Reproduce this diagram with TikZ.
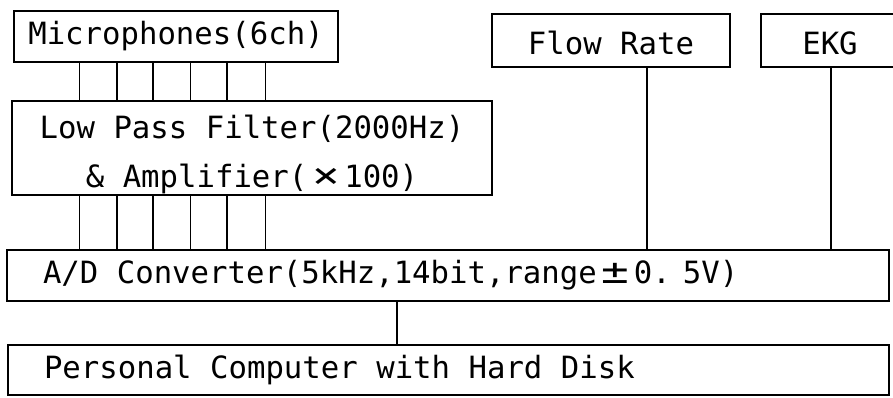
\documentclass[tikz,border=0pt]{standalone}
\usepackage{fontspec}
\newfontfamily\dmono{DejaVu Sans Mono}
\newcommand{\fwc}[1]{\makebox[1.204em][c]{\scalebox{1.5}[1.15]{#1}}}
\tikzset{
  box/.style={draw, line width=1.5pt, rectangle, inner sep=0pt,
    font=\dmono\fontsize{23pt}{36.75pt}\selectfont},
  wire/.style={line width=1.1pt},
}
\begin{document}
\begin{tikzpicture}[x=0.75pt,y=-0.75pt]
\useasboundingbox (0,0) rectangle (893,397);
\clip (0,0) rectangle (893,397);
% boxes
\node[box, minimum width=243pt, minimum height=38.25pt] (mic) at (176,36.5) {Microphones(6ch)};
\node[box, minimum width=360pt, minimum height=70.5pt] (filt) at (252,148)
  {\raisebox{-29.25pt}[0pt][0pt]{\begin{tabular}[b]{@{}c@{}}Low Pass Filter(2000Hz)\\\& Amplifier(\fwc{×}100)\end{tabular}}};
\node[box, minimum width=178.5pt, minimum height=39.75pt] (flow) at (611,40.5) {\raisebox{-10.3pt}[0pt][0pt]{Flow Rate}};
\node[box, minimum width=103.5pt, minimum height=39.75pt] (ekg) at (830,40.5) {\raisebox{-10.3pt}[0pt][0pt]{EKG}};
\node[box, minimum height=38.25pt, inner xsep=27pt] (ad) at (448,275.5)
  {\makebox[607.5pt][l]{A/D Converter(5kHz,14bit,range\fwc{±}0.\hspace{0.4em}5V)}};
\node[box, minimum height=37.5pt, inner xsep=27pt] (pc) at (448.5,370)
  {\makebox[606.75pt][l]{Personal Computer with Hard Disk}};
% channel coordinates
\foreach \i/\x in {1/79.5,2/117,3/153,4/190.5,5/227,6/265.5}{
  \coordinate (c\i) at (\x,0);
  \draw[wire] (mic.south -| c\i) -- (filt.north -| c\i);
  \draw[wire] (filt.south -| c\i) -- (ad.north -| c\i);
}
\coordinate (cf) at (647,0);
\coordinate (ce) at (831,0);
\coordinate (cp) at (397,0);
\draw[wire] (flow.south -| cf) -- (ad.north -| cf);
\draw[wire] (ekg.south -| ce) -- (ad.north -| ce);
\draw[wire] (ad.south -| cp) -- (pc.north -| cp);
\end{tikzpicture}
\end{document}
